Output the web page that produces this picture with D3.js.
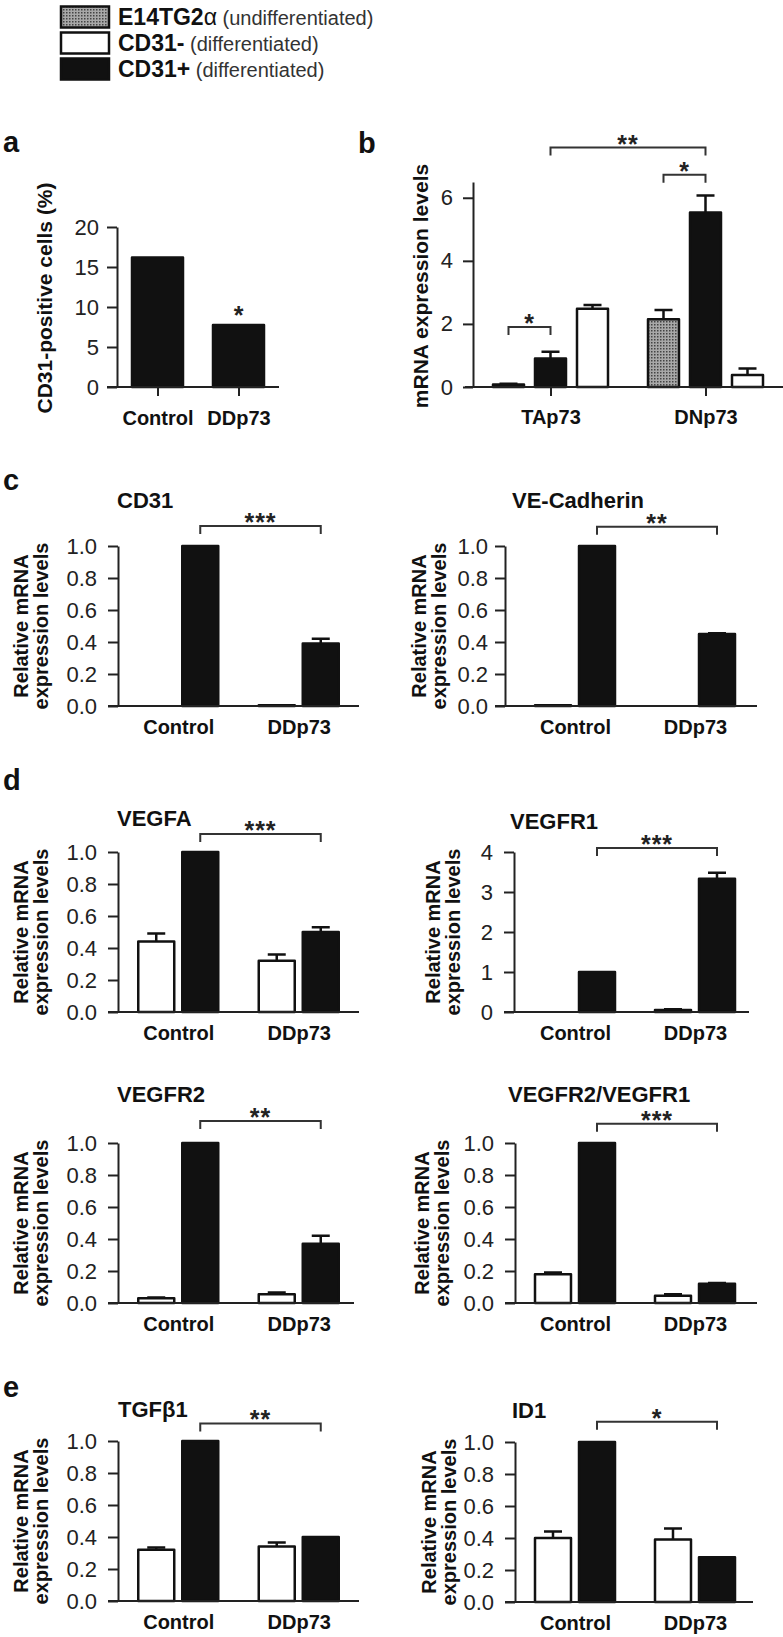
<!DOCTYPE html>
<html>
<head>
<meta charset="utf-8">
<script src="https://cdn.jsdelivr.net/npm/d3@7"></script>
<style>
  body { margin: 0; background: #fff; }
  svg { display: block; font-family: "Liberation Sans", Arial, sans-serif; }
</style>
</head>
<body>
<svg id="fig" width="783" height="1637"></svg>
<script>
// ---- data ----
var seriesNames = ["E14TG2", "CD31-", "CD31+"];
var seriesNotes = ["(undifferentiated)", "(differentiated)", "(differentiated)"];

// panel a: % CD31-positive cells
var aGroups = ["Control", "DDp73"];
var aValues = [16.2, 7.75];
var aTicks = [0, 5, 10, 15, 20];

// panel b: TAp73 / DNp73 mRNA
var bGroups = ["TAp73", "DNp73"];
var bGray = [0.08, 2.15], bGrayErr = [0.02, 0.29];
var bBlack = [0.9, 5.53], bBlackErr = [0.22, 0.54];
var bWhite = [2.48, 0.38], bWhiteErr = [0.12, 0.21];
var bTicks = [0, 2, 4, 6];

// panels c-e: relative mRNA, CD31- (white) and CD31+ (black)
var groups = ["Control", "DDp73"];
var genes = ["CD31", "VE-Cadherin", "VEGFA", "VEGFR1", "VEGFR2", "VEGFR2/VEGFR1", "TGF\u03b21", "ID1"];
var whiteVals = [[0, 0.005], [0.005, 0], [0.44, 0.32], [0, 0.05], [0.03, 0.055], [0.18, 0.045], [0.32, 0.34], [0.40, 0.39]];
var whiteErr  = [[0, 0], [0, 0], [0.05, 0.04], [0, 0.02], [0.005, 0.01], [0.01, 0.01], [0.015, 0.025], [0.04, 0.07]];
var blackVals = [[1, 0.39], [1, 0.45], [1, 0.50], [1, 3.33], [1, 0.37], [1, 0.12], [1, 0.40], [1, 0.28]];
var blackErr  = [[0, 0.03], [0, 0.005], [0, 0.03], [0, 0.15], [0, 0.05], [0, 0.005], [0, 0], [0, 0]];
var geneMax = [1, 1, 1, 4, 1, 1, 1, 1];
var stars = ["***", "**", "***", "***", "**", "***", "**", "*"];
var bracketLevel = [1.125, 1.12, 1.113, 4.1, 1.138, 1.12, 1.11, 1.126];

// ---- layout ----
var geneLayout = [
  {side: 0, y0: 706,  ax: 118, pad: 11, xEnd: 359, tx: 117, ty: 508,  lab: 28},
  {side: 1, y0: 706,  ax: 505, pad: 7,  xEnd: 757, tx: 512, ty: 508,  lab: 426},
  {side: 0, y0: 1012, ax: 118, pad: 11, xEnd: 359, tx: 117, ty: 826,  lab: 28},
  {side: 1, y0: 1012, ax: 514, pad: 11, xEnd: 749, tx: 510, ty: 829,  lab: 440},
  {side: 0, y0: 1303, ax: 118, pad: 11, xEnd: 354, tx: 117, ty: 1102, lab: 28},
  {side: 1, y0: 1303, ax: 515, pad: 11, xEnd: 757, tx: 508, ty: 1102, lab: 429},
  {side: 0, y0: 1601, ax: 118, pad: 11, xEnd: 359, tx: 118, ty: 1417, lab: 28},
  {side: 1, y0: 1602, ax: 515, pad: 11, xEnd: 753, tx: 512, ty: 1418, lab: 436}
];
var sideRange = [[118, 359], [515, 755]];
var ink = "#222";

var svg = d3.select("#fig");

var defs = svg.append("defs");
var pat = defs.append("pattern").attr("id", "dots")
    .attr("width", 3).attr("height", 3).attr("patternUnits", "userSpaceOnUse");
pat.append("rect").attr("width", 3).attr("height", 3).attr("fill", "#a8a8a8");
pat.append("rect").attr("width", 1.5).attr("height", 1.5).attr("fill", "#444");
var fills = ["url(#dots)", "#fff", "#111"];

// legend
var leg = svg.append("g");
seriesNames.forEach(function (name, i) {
    var cy = 17 + i * 26;
    leg.append("rect").attr("x", 61).attr("y", cy - 10.5).attr("width", 48).attr("height", 21)
        .attr("fill", fills[i]).attr("stroke", "#111").attr("stroke-width", 2.5);
    var t = leg.append("text").attr("x", 118).attr("y", cy + 8)
        .attr("font-size", 23).attr("font-weight", "bold").attr("fill", "#111").text(name);
    if (i == 0) t.append("tspan").attr("font-weight", "normal").text("\u03b1");
    t.append("tspan").attr("font-weight", "normal").attr("font-size", 20).attr("fill", "#333")
        .text(" " + seriesNotes[i]);
});

function letter(s, x, y) {
    svg.append("text").attr("x", x).attr("y", y).attr("font-size", 29)
        .attr("font-weight", "bold").attr("fill", "#111").text(s);
}

function yLabel(lines, x, cy, size) {
    var t = svg.append("text").attr("transform", "translate(" + x + "," + cy + ") rotate(-90)")
        .attr("text-anchor", "middle").attr("font-size", size).attr("font-weight", "bold").attr("fill", "#111");
    lines.forEach(function (l, i) {
        t.append("tspan").attr("x", 0).attr("dy", i == 0 ? 0 : 20).text(l);
    });
}

function styleAxis(g) {
    g.selectAll("path, line").attr("stroke", ink).attr("stroke-width", 2);
    g.selectAll("text").attr("font-size", 22).attr("fill", ink).attr("font-family", null);
}

function baseLine(x1, x2, y) {
    svg.append("line").attr("x1", x1).attr("x2", x2).attr("y1", y).attr("y2", y)
        .attr("stroke", ink).attr("stroke-width", 2);
}

function bar(g, x, w, y, v, err, fill) {
    var top = y(v);
    g.append("rect").attr("x", x).attr("width", w).attr("y", top).attr("height", y(0) - top)
        .attr("fill", fill).attr("stroke", "#111").attr("stroke-width", 2.5)
        .attr("stroke-linejoin", "round");
    if (err > 0) {
        var cx = x + w / 2, e = y(v + err);
        g.append("path").attr("d", "M" + cx + "," + top + "V" + e + "M" + (cx - 9) + "," + e + "H" + (cx + 9))
            .attr("stroke", "#111").attr("stroke-width", 2.5).attr("fill", "none");
    }
}

function bracket(x1, x2, yb, label) {
    svg.append("path").attr("d", "M" + x1 + "," + (yb + 8) + "V" + yb + "H" + x2 + "V" + (yb + 8))
        .attr("fill", "none").attr("stroke", "#333").attr("stroke-width", 2);
    svg.append("text").attr("x", (x1 + x2) / 2).attr("y", yb + 5).attr("text-anchor", "middle")
        .attr("font-size", 25).attr("font-weight", "bold").attr("fill", "#222")
        .attr("letter-spacing", 1).text(label);
}

// ---- panel a ----
letter("a", 3, 152);
(function () {
    var y = d3.scaleLinear().domain([0, 20]).range([387, 227]);
    var x = d3.scalePoint().domain(aGroups).range([117, 279]).padding(0.5);
    var g = svg.append("g");
    aGroups.forEach(function (k, i) {
        bar(g, x(k) - 25.5, 51, y, aValues[i], 0, "#111");
    });
    baseLine(107, 279, 387);
    svg.append("g").attr("transform", "translate(117,0)")
        .call(d3.axisLeft(y).tickValues(aTicks).tickSize(10).tickPadding(8).tickSizeOuter(0))
        .call(styleAxis);
    var xa = svg.append("g").attr("transform", "translate(0,387)")
        .call(d3.axisBottom(x).tickSize(9).tickPadding(15).tickSizeOuter(0))
        .call(styleAxis);
    xa.select(".domain").remove();
    xa.selectAll("text").attr("font-size", 20).attr("font-weight", "bold").attr("fill", "#111");
    svg.append("text").attr("x", x("DDp73")).attr("y", y(aValues[1]) - 1).attr("text-anchor", "middle")
        .attr("font-size", 25).attr("font-weight", "bold").attr("fill", "#222").text("*");
    yLabel(["CD31-positive cells (%)"], 52, 298, 21);
})();

// ---- panel b ----
letter("b", 358, 153);
(function () {
    var y = d3.scaleLinear().domain([0, 6.5]).range([387, 182]);
    var x = d3.scalePoint().domain(bGroups).range([473, 783]).padding(0.5);
    var s = d3.scaleBand().domain(["gray", "black", "white"]).range([-57.5, 57.5]).paddingInner(0.262);
    var g = svg.append("g");
    bGroups.forEach(function (k, i) {
        bar(g, x(k) + s("gray"), s.bandwidth(), y, bGray[i], bGrayErr[i], "url(#dots)");
        bar(g, x(k) + s("black"), s.bandwidth(), y, bBlack[i], bBlackErr[i], "#111");
        bar(g, x(k) + s("white"), s.bandwidth(), y, bWhite[i], bWhiteErr[i], "#fff");
    });
    baseLine(465, 783, 387);
    svg.append("g").attr("transform", "translate(473,0)")
        .call(d3.axisLeft(y).tickValues(bTicks).tickSize(10).tickPadding(10).tickSizeOuter(0)
            .tickFormat(d3.format("d")))
        .call(styleAxis);
    var xa = svg.append("g").attr("transform", "translate(0,387)")
        .call(d3.axisBottom(x).tickSize(9).tickPadding(14).tickSizeOuter(0))
        .call(styleAxis);
    xa.select(".domain").remove();
    xa.selectAll("text").attr("font-size", 20).attr("font-weight", "bold").attr("fill", "#111");
    var c = function (k, ser) { return x(k) + s(ser) + s.bandwidth() / 2; };
    bracket(c("TAp73", "gray"), c("TAp73", "black"), y(1.9), "*");
    bracket(c("DNp73", "gray"), c("DNp73", "black"), y(6.73), "*");
    bracket(c("TAp73", "black"), c("DNp73", "black"), y(7.59), "**");
    yLabel(["mRNA expression levels"], 428, 286, 21);
})();

// ---- panels c-e ----
letter("c", 3, 490);
letter("d", 3, 790);
letter("e", 3, 1397);

genes.forEach(function (gene, i) {
    var L = geneLayout[i];
    var y = d3.scaleLinear().domain([0, geneMax[i]]).range([L.y0, L.y0 - 160]);
    var x = d3.scalePoint().domain(groups).range(sideRange[L.side]).padding(0.5);
    var s = d3.scaleBand().domain(["white", "black"]).range([-40, 40]).paddingInner(0.182);
    var g = svg.append("g");
    groups.forEach(function (k, j) {
        bar(g, x(k) + s("white"), s.bandwidth(), y, whiteVals[i][j], whiteErr[i][j], "#fff");
        bar(g, x(k) + s("black"), s.bandwidth(), y, blackVals[i][j], blackErr[i][j], "#111");
    });
    baseLine(L.ax - 10, L.xEnd, L.y0);
    var ticks = geneMax[i] == 1 ? d3.range(0, 1.01, 0.2) : d3.range(0, geneMax[i] + 1);
    svg.append("g").attr("transform", "translate(" + L.ax + ",0)")
        .call(d3.axisLeft(y).tickValues(ticks).tickSize(10).tickPadding(L.pad).tickSizeOuter(0)
            .tickFormat(geneMax[i] == 1 ? d3.format(".1f") : d3.format("d")))
        .call(styleAxis);
    var xa = svg.append("g").attr("transform", "translate(0," + L.y0 + ")")
        .call(d3.axisBottom(x).tickSize(0).tickPadding(14))
        .call(styleAxis);
    xa.select(".domain").remove();
    xa.selectAll("text").attr("font-size", 20).attr("font-weight", "bold").attr("fill", "#111");
    svg.append("text").attr("x", L.tx).attr("y", L.ty).attr("font-size", 22)
        .attr("font-weight", "bold").attr("fill", "#111").text(gene);
    var bc = function (k) { return x(k) + s("black") + s.bandwidth() / 2; };
    bracket(bc("Control"), bc("DDp73"), y(bracketLevel[i]), stars[i]);
    yLabel(["Relative mRNA", "expression levels"], L.lab, L.y0 - 80, 20);
});
</script>
</body>
</html>
